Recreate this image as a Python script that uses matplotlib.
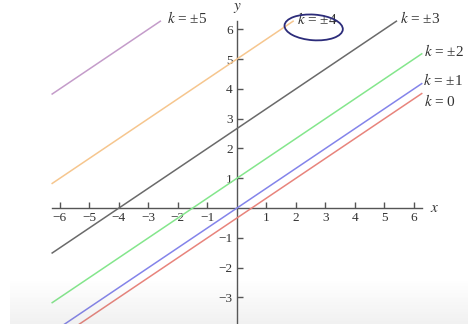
import numpy as np
import matplotlib
matplotlib.use("Agg")
import matplotlib.pyplot as plt
from matplotlib.patches import Ellipse

plt.rcParams["font.family"] = ["Liberation Serif", "DejaVu Serif"]
plt.rcParams["mathtext.fontset"] = "stix"

# Family of parallel lines y = slope*x + c_k, one per |k|
k_values = ["0", "±1", "±2", "±3", "±4", "±5"]
k_labels = ["$k$ = " + v for v in k_values]
intercepts = [-1/3, 0.0, 1.0, 8/3, 5.0, 8.0]
slope = 2/3
colors = ["#e8847c", "#8484ea", "#84e68c", "#6a6a6a", "#f6c68e", "#c49cca"]
# label offsets in points (dx, dy) from each line's upper end
label_offsets = [(1, -6), (0.5, 2), (1, 2), (2, 2), (2, 1), (4, 2)]

tick_vals = [-6, -5, -4, -3, -2, -1, 1, 2, 3, 4, 5, 6]
lim = 2 * np.pi

fig = plt.figure(figsize=(4.68, 3.24), dpi=100)
ax = fig.add_axes([0, 0, 1, 1])

for c, col, lab, off in zip(intercepts, colors, k_labels, label_offsets):
    x_end = min(lim, (lim - c) / slope)
    x = np.linspace(-lim, x_end, 200)
    y = slope * x + c
    ax.plot(x, y, color=col, lw=1.1, solid_capstyle="butt", zorder=3)
    ax.annotate(lab, (x[-1], y[-1]), xytext=off, textcoords="offset points",
                ha="left", va="center", fontsize=11, color="#333333")

# axes through the origin
for side in ("top", "right"):
    ax.spines[side].set_visible(False)
ax.spines["left"].set_position(("data", 0))
ax.spines["bottom"].set_position(("data", 0))
ax.spines["left"].set_bounds(-lim, lim)
ax.spines["bottom"].set_bounds(-lim, lim)
for side in ("left", "bottom"):
    ax.spines[side].set_color("#555555")
    ax.spines[side].set_linewidth(1.0)

ax.set_xticks(tick_vals)
ax.set_yticks(tick_vals)
ax.set_xticklabels([f"{v:d}".replace("-", "\u2212") for v in tick_vals])
ax.set_yticklabels([f"{v:d}".replace("-", "\u2212") for v in tick_vals])
ax.tick_params(direction="in", length=4.5, width=1.0, color="#555555",
               labelsize=9.5, labelcolor="#333333", pad=3)

# view window (set after the ticks so they do not widen it)
ax.set_xlim(-8.03, 7.83)
ax.set_ylim(-3.89, 6.98)

ax.text(6.55, 0, "$x$", fontsize=11, va="center", ha="left", color="#333333")
ax.text(0.0, 6.72, "$y$", fontsize=11, va="center", ha="center", color="#333333")

# hand-drawn circle around the k = ±4 label
ax.add_patch(Ellipse((2.6, 6.06), 1.98, 0.86, angle=-4, fill=False,
                     edgecolor="#2c2c7a", lw=1.3, zorder=5))

# soft grey band along the bottom edge
band = fig.add_axes([10 / 468, 0, 1 - 10 / 468, 45 / 324], zorder=10)
band.set_axis_off()
alpha = np.linspace(0.0, 0.10, 64)[:, None] * np.ones((1, 2))
rgba = np.zeros((64, 2, 4))
rgba[..., :3] = 0.45
rgba[..., 3] = alpha
band.imshow(rgba, aspect="auto", origin="upper", extent=[0, 1, 1, 0])
band.set_xlim(0, 1)
band.set_ylim(1, 0)

fig.savefig("out.png", dpi=100)
